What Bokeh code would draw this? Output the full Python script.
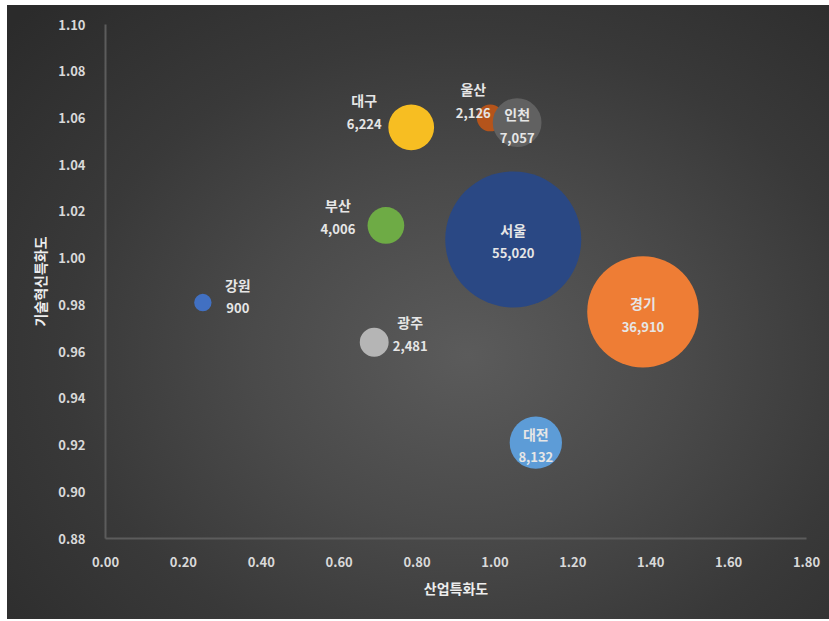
import math
from bokeh.plotting import figure
from bokeh.models import ColumnDataSource, Range1d, FixedTicker, NumeralTickFormatter
from bokeh.core.properties import value
from bokeh.embed import file_html
from bokeh.resources import INLINE

# ---- data ----
regions = ["강원", "경기", "광주", "대구", "대전", "부산", "서울", "울산", "인천"]
industry_index = [0.25, 1.38, 0.69, 0.785, 1.105, 0.72, 1.047, 0.988, 1.057]
innovation_index = [0.981, 0.977, 0.964, 1.056, 0.921, 1.014, 1.008, 1.060, 1.058]
counts = [900, 36910, 2481, 6224, 8132, 4006, 55020, 2126, 7057]
count_labels = ["900", "36,910", "2,481", "6,224", "8,132", "4,006", "55,020", "2,126", "7,057"]
x_ticks = [0.0, 0.2, 0.4, 0.6, 0.8, 1.0, 1.2, 1.4, 1.6, 1.8]
y_ticks = [0.88, 0.90, 0.92, 0.94, 0.96, 0.98, 1.00, 1.02, 1.04, 1.06, 1.08, 1.10]

# ---- styles / layout ----
colors = ["#4170C2", "#EE7D35", "#B5B5B5", "#F7BE22", "#5D9CD7", "#6EAB45", "#2A4884", "#B5541B", "#616161"]
label_dx = [35, 0, 36, -47, 0, -48, 0, -17, 0]
name_dy = [-18, -9, -20, -27, -9, -20, -9, -29, -9]
value_dy = [5, 15, 4, -3, 14, 4, 14, -5, 15]
SIZE_SCALE = 0.58  # diameter px per sqrt(count)
FONT = "Noto Sans CJK KR"

sizes = [SIZE_SCALE * math.sqrt(c) for c in counts]

src = ColumnDataSource(dict(
    x=industry_index, y=innovation_index, name=regions, val=count_labels,
    color=colors, size=sizes, dx=label_dx, ndy=name_dy, vdy=value_dy,
))

p = figure(
    frame_width=701, frame_height=514,
    min_border_left=98, min_border_right=23, min_border_top=19, min_border_bottom=81,
    x_range=Range1d(0, 1.8), y_range=Range1d(0.88, 1.10),
    output_backend="svg", toolbar_location=None,
    background_fill_color=None, border_fill_color=None, outline_line_color=None,
)
p.styles = {
    "margin-left": "7px",
    "margin-top": "5px",
    "background-image": "radial-gradient(ellipse 75% 80% at 56% 57%, #5b5b5b 0%, #4a4a4a 35%, #393939 65%, #2b2b2b 100%)",
}

p.grid.visible = False

p.scatter("x", "y", size="size", color="color", line_color=None, source=src)

p.text("x", "y", text="name", x_offset="dx", y_offset="ndy", source=src,
       text_align="center", text_baseline="middle", text_color="#E6E6E6",
       text_font=value(FONT), text_font_size="14px", text_font_style="bold")
p.text("x", "y", text="val", x_offset="dx", y_offset="vdy", source=src,
       text_align="center", text_baseline="middle", text_color="#E6E6E6",
       text_font=value(FONT), text_font_size="13px", text_font_style="bold")

for ax in (p.xaxis[0], p.yaxis[0]):
    ax.axis_line_color = "#5c5c5c"
    ax.axis_line_width = 2
    ax.major_tick_line_color = None
    ax.minor_tick_line_color = None
    ax.major_label_text_color = "#D9D9D9"
    ax.major_label_text_font = FONT
    ax.major_label_text_font_size = "13px"
    ax.major_label_text_font_style = "bold"
    ax.axis_label_text_color = "#EDEDED"
    ax.axis_label_text_font = FONT
    ax.axis_label_text_font_size = "14px"
    ax.axis_label_text_font_style = "bold"
    ax.formatter = NumeralTickFormatter(format="0.00")

p.xaxis.ticker = FixedTicker(ticks=x_ticks)
p.yaxis.ticker = FixedTicker(ticks=y_ticks)
p.xaxis.axis_label = "산업특화도"
p.yaxis.axis_label = "기술혁신특화도"
p.xaxis.major_label_standoff = 12
p.yaxis.major_label_standoff = 14
p.xaxis.axis_label_standoff = 8
p.yaxis.axis_label_standoff = 5

open("out.html", "w").write(file_html(p, INLINE))
